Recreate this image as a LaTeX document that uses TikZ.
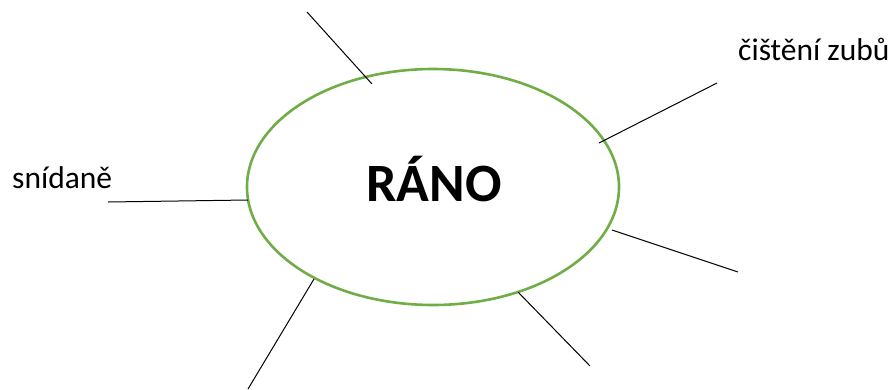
\documentclass[tikz,border=0pt]{standalone}
\usepackage{fontspec}
\setmainfont{Carlito}
\usetikzlibrary{shapes.geometric}
\definecolor{ogreen}{RGB}{112,173,71}
\begin{document}
\begin{tikzpicture}[x=1pt,y=-1pt,
  spoke/.style={draw=black,line width=1pt},
  lbl/.style={inner sep=0pt,font=\fontsize{31.5}{37}\selectfont},
  ]
\useasboundingbox (0,0) rectangle (893,389);
\node[ellipse,draw=ogreen,line width=2.6pt,minimum width=372pt,minimum height=236pt,inner sep=0pt] (e) at (433,187) {};
\node[anchor=base,inner sep=0pt,font=\fontsize{54}{60}\selectfont\bfseries] (t) at (434,201) {RÁNO};
\node[lbl,anchor=base west] (l1) at (12,188) {snídaně};
\node[lbl,anchor=base west] (l2) at (738,60) {čištění zubů};
\coordinate (a1) at (307,12);  \coordinate (b1) at (372,84);
\coordinate (a2) at (717,83);  \coordinate (b2) at (599,143);
\coordinate (a3) at (738,272); \coordinate (b3) at (612,230);
\coordinate (a4) at (590,366); \coordinate (b4) at (518,292);
\coordinate (a5) at (248,389); \coordinate (b5) at (314,279);
\coordinate (a6) at (108,202); \coordinate (b6) at (248,200);
\foreach \i in {1,...,6} \draw[spoke] (a\i) -- (b\i);
\end{tikzpicture}
\end{document}
